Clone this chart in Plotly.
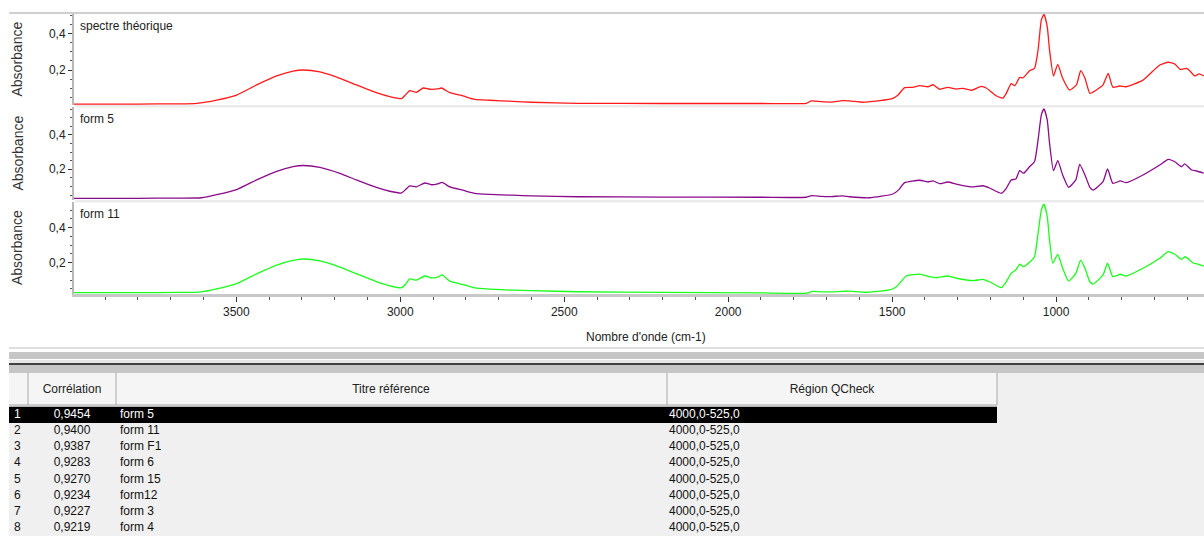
import plotly.graph_objects as go

W, H = 1204, 536

# ---------------- data ----------------
red_wn = [4000, 3800, 3680, 3621, 3560, 3499, 3438, 3377, 3327, 3296, 3245, 3184, 3134, 3073, 3032,
          2996, 2985, 2971, 2951, 2930, 2910, 2886, 2874, 2849, 2809, 2773, 2727, 2657, 2600, 2458,
          2200, 1900, 1762, 1746, 1716, 1685, 1651, 1630, 1589, 1569, 1538, 1498, 1482, 1462, 1437,
          1416, 1391, 1375, 1355, 1330, 1304, 1284, 1259, 1228, 1213, 1183, 1162, 1152, 1137, 1126,
          1111, 1101, 1081, 1066, 1055, 1045, 1037, 1027, 1020, 1008, 995, 980, 959, 938, 925,
          912, 897, 877, 857, 841, 827, 806, 786, 735, 684, 658, 638, 622, 602, 592,
          577, 564, 550]
red_abs = [0.011, 0.011, 0.012, 0.015, 0.033, 0.061, 0.117, 0.167, 0.194, 0.200, 0.189, 0.154, 0.117, 0.074, 0.052,
           0.041, 0.060, 0.085, 0.076, 0.100, 0.093, 0.095, 0.100, 0.074, 0.056, 0.037, 0.032, 0.026, 0.021, 0.015,
           0.014, 0.014, 0.015, 0.028, 0.024, 0.022, 0.030, 0.028, 0.021, 0.024, 0.030, 0.043, 0.061, 0.102, 0.104,
           0.113, 0.107, 0.118, 0.093, 0.104, 0.094, 0.098, 0.087, 0.109, 0.100, 0.057, 0.044, 0.070, 0.124, 0.113,
           0.159, 0.156, 0.196, 0.209, 0.311, 0.478, 0.509, 0.440, 0.311, 0.167, 0.231, 0.154, 0.089, 0.117, 0.196,
           0.154, 0.070, 0.089, 0.117, 0.181, 0.104, 0.111, 0.107, 0.144, 0.228, 0.243, 0.233, 0.204, 0.209, 0.195,
           0.167, 0.178, 0.167]

purple_wn = [4000, 3800, 3680, 3606, 3560, 3499, 3438, 3377, 3327, 3296, 3245, 3184, 3134, 3073, 3032,
             2996, 2985, 2971, 2951, 2925, 2905, 2886, 2872, 2849, 2809, 2773, 2727, 2657, 2600, 2458,
             2200, 1900, 1762, 1746, 1716, 1685, 1651, 1630, 1569, 1498, 1480, 1462, 1416, 1391, 1375,
             1355, 1330, 1304, 1259, 1223, 1203, 1167, 1152, 1137, 1123, 1111, 1099, 1081, 1066, 1055,
             1045, 1037, 1027, 1020, 1008, 995, 980, 962, 940, 928, 912, 897, 887, 857, 843,
             827, 804, 786, 735, 684, 658, 638, 618, 608, 587, 572, 550]
purple_abs = [0.031, 0.031, 0.032, 0.034, 0.052, 0.082, 0.138, 0.188, 0.215, 0.222, 0.211, 0.176, 0.138, 0.094, 0.072,
              0.062, 0.080, 0.103, 0.098, 0.120, 0.110, 0.115, 0.124, 0.097, 0.078, 0.060, 0.054, 0.049, 0.045, 0.040,
              0.038, 0.037, 0.037, 0.046, 0.042, 0.041, 0.045, 0.040, 0.034, 0.056, 0.080, 0.122, 0.136, 0.126, 0.132,
              0.116, 0.126, 0.113, 0.097, 0.104, 0.091, 0.060, 0.089, 0.138, 0.143, 0.192, 0.177, 0.215, 0.244, 0.371,
              0.517, 0.552, 0.487, 0.352, 0.192, 0.250, 0.167, 0.095, 0.138, 0.229, 0.167, 0.095, 0.079, 0.128, 0.202,
              0.118, 0.132, 0.122, 0.167, 0.225, 0.258, 0.244, 0.215, 0.231, 0.196, 0.190, 0.177]

green_wn = [4000, 3800, 3680, 3611, 3560, 3499, 3438, 3377, 3327, 3296, 3245, 3184, 3134, 3073, 3032,
            2996, 2985, 2971, 2951, 2925, 2905, 2886, 2872, 2849, 2809, 2773, 2727, 2657, 2600, 2458,
            2200, 1900, 1760, 1742, 1716, 1685, 1651, 1630, 1579, 1508, 1487, 1457, 1416, 1386, 1365,
            1330, 1304, 1254, 1223, 1203, 1167, 1152, 1137, 1123, 1111, 1099, 1081, 1066, 1055, 1045,
            1037, 1027, 1020, 1010, 995, 980, 962, 940, 925, 912, 897, 887, 857, 843, 827,
            804, 786, 735, 684, 658, 638, 618, 606, 581, 566, 550]
green_abs = [0.029, 0.029, 0.030, 0.032, 0.050, 0.080, 0.136, 0.186, 0.213, 0.221, 0.210, 0.175, 0.137, 0.092, 0.068,
             0.057, 0.075, 0.107, 0.100, 0.124, 0.113, 0.118, 0.130, 0.095, 0.075, 0.056, 0.049, 0.043, 0.040, 0.034,
             0.030, 0.027, 0.026, 0.036, 0.033, 0.033, 0.036, 0.038, 0.031, 0.044, 0.063, 0.124, 0.135, 0.120, 0.114,
             0.124, 0.111, 0.097, 0.105, 0.091, 0.057, 0.091, 0.139, 0.158, 0.191, 0.177, 0.202, 0.234, 0.368, 0.501,
             0.535, 0.463, 0.330, 0.197, 0.248, 0.168, 0.095, 0.139, 0.215, 0.168, 0.091, 0.078, 0.130, 0.197, 0.120,
             0.134, 0.124, 0.168, 0.225, 0.263, 0.248, 0.219, 0.234, 0.197, 0.191, 0.181]

panel_titles = ["spectre théorique", "form 5", "form 11"]
x_tick_vals = [3500, 3000, 2500, 2000, 1500, 1000]
x_tick_text = ["3500", "3000", "2500", "2000", "1500", "1000"]
y_tick_vals = [0.2, 0.4]
y_tick_text = ["0,2", "0,4"]

table_rank = [1, 2, 3, 4, 5, 6, 7, 8]
table_corr = ["0,9454", "0,9400", "0,9387", "0,9283", "0,9270", "0,9234", "0,9227", "0,9219"]
table_title = ["form 5", "form 11", "form F1", "form 6", "form 15", "form12", "form 3", "form 4"]
table_region = ["4000,0-525,0"] * 8
table_headers = ["Corrélation", "Titre référence", "Région QCheck"]

for a, b in [(red_wn, red_abs), (purple_wn, purple_abs), (green_wn, green_abs)]:
    assert len(a) == len(b), (len(a), len(b))

# ---------------- layout helpers ----------------
def px(x):
    return x / W

def py(y):
    return 1 - y / H

FONT = "Liberation Sans, Arial, sans-serif"
colors = ["#ff1a1a", "#8b0a8b", "#1aff1a"]
panels = [(105, 14, [0.0056, 0.511]), (200, 107, [0.021, 0.563]), (294, 202, [0.021, 0.547])]
series = [(red_wn, red_abs), (purple_wn, purple_abs), (green_wn, green_abs)]

fig = go.Figure()
layout = dict(width=W, height=H, margin=dict(l=0, r=0, t=0, b=0), autosize=False,
              paper_bgcolor="white", plot_bgcolor="rgba(0,0,0,0)", showlegend=False,
              font=dict(family=FONT, size=12, color="#222"))

xrange_ = [3995, 549]
for i, ((wn, ab), (ybot, ytop, yr)) in enumerate(zip(series, panels)):
    n = "" if i == 0 else str(i + 1)
    fig.add_trace(go.Scatter(x=wn, y=ab, mode="lines", xaxis="x" + n, yaxis="y" + n,
                             line=dict(color=colors[i], width=1.3, shape="spline", smoothing=0.5),
                             hoverinfo="skip"))
    xa = dict(domain=[px(74), 1], range=xrange_, showgrid=False, zeroline=False,
              showticklabels=False, showline=False, ticks="")
    if i > 0:
        xa["matches"] = "x"
    if i == 2:
        xa.update(showticklabels=True, tickmode="array", tickvals=x_tick_vals, ticktext=x_tick_text,
                  ticks="outside", ticklen=5, tickcolor="#333", tickwidth=1,
                  showline=True, linecolor="#c8c8c8", linewidth=3,
                  minor=dict(tickmode="linear", tick0=0, dtick=100, ticks="outside", ticklen=3,
                             tickcolor="#555"),
                  tickfont=dict(size=12, color="#222", family=FONT))
    layout["xaxis" + n] = dict(anchor="y" + n, **xa)
    layout["yaxis" + n] = dict(anchor="x" + n, domain=[py(ybot), py(ytop)], range=yr,
                               showgrid=False, zeroline=False, tickmode="array",
                               tickvals=y_tick_vals, ticktext=y_tick_text, ticks="outside",
                               ticklen=4, tickcolor="#333", showline=True, linecolor="#b8b8b8",
                               linewidth=2,
                               minor=dict(tickmode="linear", tick0=0, dtick=0.05, ticks="outside",
                                          ticklen=2, tickcolor="#555"),
                               tickfont=dict(size=12, color="#222", family=FONT))

# ---------------- table (text traces on a row-indexed axis) ----------------
ROW_H = 16.2
ROW1_PX = 414.8
def row_of(pix):
    return 1 + (pix - ROW1_PX) / ROW_H

layout["xaxis4"] = dict(domain=[0, 1], range=[0, W], visible=False, anchor="y4", fixedrange=True)
layout["yaxis4"] = dict(domain=[0, py(373)], range=[row_of(536), row_of(373)], visible=False,
                        anchor="x4", fixedrange=True)

txt_col = ["#ffffff"] + ["#111111"] * 7
col_specs = [
    ([str(r) for r in table_rank], 14, "middle right"),
    (table_corr, 72, "middle center"),
    (table_title, 120, "middle right"),
    (table_region, 669, "middle right"),
]
for vals, xpos, pos in col_specs:
    fig.add_trace(go.Scatter(x=[xpos] * len(vals), y=table_rank, mode="text", text=vals,
                             textposition=pos, xaxis="x4", yaxis="y4", cliponaxis=False,
                             textfont=dict(family=FONT, size=12, color=txt_col), hoverinfo="skip"))
header_y = row_of(390)
fig.add_trace(go.Scatter(x=[72, 391, 832], y=[header_y] * 3, mode="text", text=table_headers,
                         textposition="middle center", xaxis="x4", yaxis="y4", cliponaxis=False,
                         textfont=dict(family=FONT, size=12, color="#222"), hoverinfo="skip"))

shapes = []
def rect(x0, y0, x1, y1, color, layer="below"):
    shapes.append(dict(type="rect", xref="paper", yref="paper", x0=px(x0), x1=px(x1),
                       y0=py(y1), y1=py(y0), fillcolor=color, line=dict(width=0), layer=layer))

# top border line
shapes.append(dict(type="line", xref="paper", yref="paper", x0=px(9), x1=1, y0=py(13), y1=py(13),
                   line=dict(color="#a0a0a0", width=1.2)))
# separators between spectra panels
rect(75, 105, 1204, 107.5, "#ebebeb", "above")
rect(75, 200, 1204, 202.5, "#ebebeb", "above")
# lower toolbar bands
rect(9, 347, 1204, 349, "#dedede")
rect(9, 352, 1204, 359, "#c6c6c6")
rect(9, 360, 1204, 363, "#e6e6e6")
rect(9, 365, 1204, 373, "#c6c6c6")
shapes.append(dict(type="line", xref="paper", yref="paper", x0=px(9), x1=1, y0=py(364), y1=py(364),
                   line=dict(color="#000000", width=1.5)))
rect(9, 373, 1204, 536, "#f0f0f0")
# header cells
rect(9, 373, 997, 405, "#f5f5f5")
for xb in [28, 116, 667, 997]:
    shapes.append(dict(type="line", xref="paper", yref="paper", x0=px(xb), x1=px(xb),
                       y0=py(405), y1=py(373), line=dict(color="#a8a8a8", width=1), layer="below"))
shapes.append(dict(type="line", xref="paper", yref="paper", x0=px(9), x1=px(997), y0=py(405), y1=py(405),
                   line=dict(color="#a8a8a8", width=1), layer="below"))
# highlighted (selected) first row
shapes.append(dict(type="rect", xref="x4", yref="y4", x0=9, x1=997, y0=0.5, y1=1.5,
                   fillcolor="#000000", line=dict(width=0), layer="below"))

annotations = []
for i, (ybot, ytop, yr) in enumerate(panels):
    annotations.append(dict(text="Absorbance", xref="paper", yref="paper", x=px(17), y=py((ybot + ytop) / 2),
                            textangle=-90, showarrow=False, font=dict(size=14, color="#333", family=FONT),
                            xanchor="center", yanchor="middle"))
    annotations.append(dict(text=panel_titles[i], xref="paper", yref="paper", x=px(78), y=py(ytop + 12),
                            showarrow=False, xanchor="left", yanchor="middle",
                            font=dict(size=12, color="#222", family=FONT)))
annotations.append(dict(text="Nombre d'onde (cm-1)", xref="paper", yref="paper", x=px(646), y=py(337),
                        showarrow=False, xanchor="center", yanchor="middle",
                        font=dict(size=12, color="#222", family=FONT)))

layout["shapes"] = shapes
layout["annotations"] = annotations
fig.update_layout(**layout)
fig.write_html("out.html")
